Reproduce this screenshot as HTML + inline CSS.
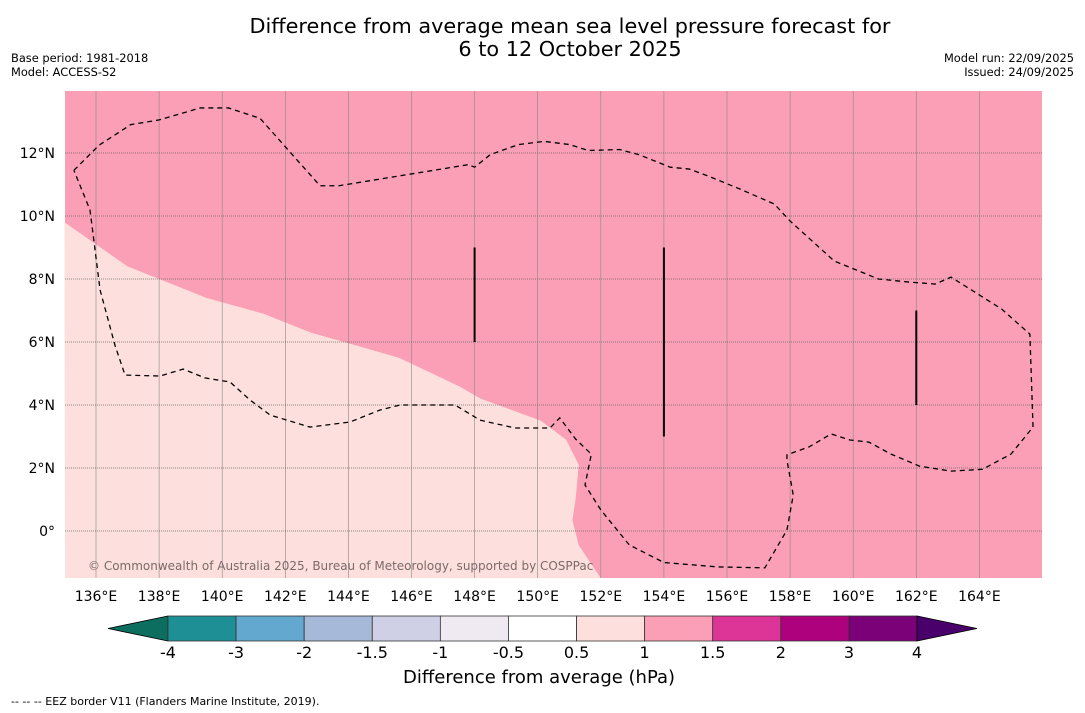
<!DOCTYPE html>
<html><head><meta charset="utf-8">
<style>
body{margin:0;background:#fff;font-family:"DejaVu Sans","Liberation Sans",sans-serif;}
#wrap{position:relative;width:1085px;height:713px;overflow:hidden;background:#fff}
.t{position:absolute;white-space:nowrap}
</style></head><body>
<div id="wrap">
<div class="t" style="left:0;width:1140px;top:15px;text-align:center;font-size:20.8px;line-height:23px;color:#000">Difference from average mean sea level pressure forecast for<br>6 to 12 October 2025</div>
<div class="t" style="left:11px;top:51px;font-size:11.4px;line-height:14px">Base period: 1981-2018<br>Model: ACCESS-S2</div>
<div class="t" style="right:11px;top:51px;font-size:11.4px;line-height:14px;text-align:right">Model run: 22/09/2025<br>Issued: 24/09/2025</div>
<svg id="svg" width="1085" height="713" style="position:absolute;left:0;top:0"></svg>
<div class="t" style="left:403px;top:667px;font-size:18px">Difference from average (hPa)</div>
<div class="t" style="left:11px;top:695px;font-size:11px">--  --  -- EEZ border V11 (Flanders Marine Institute, 2019).</div>
</div>
<script>
const levels=["-4","-3","-2","-1.5","-1","-0.5","0.5","1","1.5","2","3","4"];
const colors=["#1f8f96","#63a8cf","#a6b9d9","#cfd0e6","#efe9f2","#ffffff","#fde0dd","#fa9fb5","#dd3497","#ae017e","#7a0177"];
const lonTicks=[136,138,140,142,144,146,148,150,152,154,156,158,160,162,164];
const latTicks=[0,2,4,6,8,10,12];
const boundary=[[135,9.8],[137,8.4],[139.5,7.4],[141.3,6.9],[142.8,6.3],[145.6,5.5],[147.5,4.6],[148.2,4.2],[150.1,3.5],[150.9,2.9],[151.3,2.1],[151.2,1.0],[151.1,0.35],[151.3,-0.45],[152,-1.5]];
const eez=[[135.3,11.45],[136.1,12.25],[137.1,12.9],[138.0,13.05],[139.3,13.43],[140.2,13.43],[141.2,13.1],[143.1,10.96],[143.7,10.96],[147.8,11.63],[148,11.55],[148.5,11.95],[149.4,12.27],[150.2,12.37],[151,12.27],[151.6,12.08],[152.6,12.11],[153.2,11.95],[154.2,11.55],[154.8,11.49],[155.4,11.27],[156.4,10.86],[157.5,10.38],[158,9.84],[159.4,8.57],[160.8,8.0],[161.8,7.9],[162.6,7.84],[163.1,8.06],[164.7,7.05],[165.6,6.25],[165.7,3.3],[165,2.44],[164.1,1.96],[163.1,1.9],[162.1,2.06],[161.2,2.44],[160.5,2.82],[159.9,2.89],[159.3,3.08],[158.6,2.67],[157.9,2.42],[157.9,2.25],[158.1,1.14],[157.9,0.03],[157.2,-1.17],[155.7,-1.14],[154,-1.0],[152.9,-0.44],[152,0.67],[151.5,1.46],[151.7,2.44],[151.2,2.92],[150.7,3.59],[150.39,3.27],[149.28,3.27],[148.17,3.52],[147.38,4.0],[145.64,4.0],[145.0,3.84],[144.05,3.46],[142.78,3.30],[141.52,3.68],[140.88,4.16],[140.25,4.73],[139.45,4.86],[138.76,5.14],[138.03,4.92],[136.92,4.95],[136.6,5.9],[136.13,7.65],[135.81,10.19],[135.3,11.45]];
const segs=[[[148,9],[148,6]],[[154,9],[154,3]],[[162,7],[162,4]]];
const X=lon=>96+(lon-136)*31.55, Y=lat=>531-lat*31.5;
const NS="http://www.w3.org/2000/svg",svg=document.getElementById('svg');
function mk(tag,at){const e=document.createElementNS(NS,tag);for(const k in at)e.setAttribute(k,at[k]);svg.appendChild(e);return e;}
const L=65,R=1042,T=91,B=578;
let e=mk('rect',{x:L,y:T,width:R-L,height:B-T,fill:'#fa9fb5'});

let d='M'+boundary.map(p=>X(p[0])+','+Y(p[1])).join('L')+'L'+L+','+B+'Z';
e=mk('path',{d:d,fill:'#fde0dd'});

lonTicks.forEach(v=>{const x=X(v);
 e=mk('line',{x1:x,x2:x,y1:T,y2:B,stroke:'#888',"stroke-width":0.6});
 
 e=mk('text',{x:x,y:601,"text-anchor":"middle","font-size":14,fill:'#000'});e.textContent=v+'°E';
 });
latTicks.forEach(v=>{const y=Y(v);
 e=mk('line',{x1:L,x2:R,y1:y,y2:y,stroke:'#666',"stroke-width":0.7,"stroke-dasharray":"1,1"});
 
 e=mk('text',{x:55,y:y+5,"text-anchor":"end","font-size":14,fill:'#000'});e.textContent=(v==0?'0°':v+'°N');
 });
e=mk('path',{d:'M'+eez.map(p=>X(p[0])+','+Y(p[1])).join('L'),fill:'none',stroke:'#000',"stroke-width":1.3,"stroke-dasharray":"5,4"});

segs.forEach(s=>{e=mk('line',{x1:X(s[0][0]),x2:X(s[1][0]),y1:Y(s[0][1]),y2:Y(s[1][1]),stroke:'#000',"stroke-width":2});
 });
e=mk('text',{x:88,y:570,"font-size":12,fill:'#7a6a6a'});e.textContent='© Commonwealth of Australia 2025, Bureau of Meteorology, supported by COSPPac';

const cx0=168,cx1=917,cy=616,ch=25,w=(cx1-cx0)/colors.length;
e=mk('polygon',{points:`108,${cy+ch/2} ${cx0},${cy} ${cx0},${cy+ch}`,fill:'#0b6e5f',stroke:'#000',"stroke-width":0.8});

colors.forEach((c,i)=>{e=mk('rect',{x:cx0+i*w,y:cy,width:w,height:ch,fill:c,stroke:'#333',"stroke-width":0.8});
 });
e=mk('polygon',{points:`977,${cy+ch/2} ${cx1},${cy} ${cx1},${cy+ch}`,fill:'#49006a',stroke:'#000',"stroke-width":0.8});

levels.forEach((l,i)=>{e=mk('text',{x:cx0+i*w,y:658,"text-anchor":"middle","font-size":16,fill:'#000'});e.textContent=l;
 });
</script>
</body></html>
